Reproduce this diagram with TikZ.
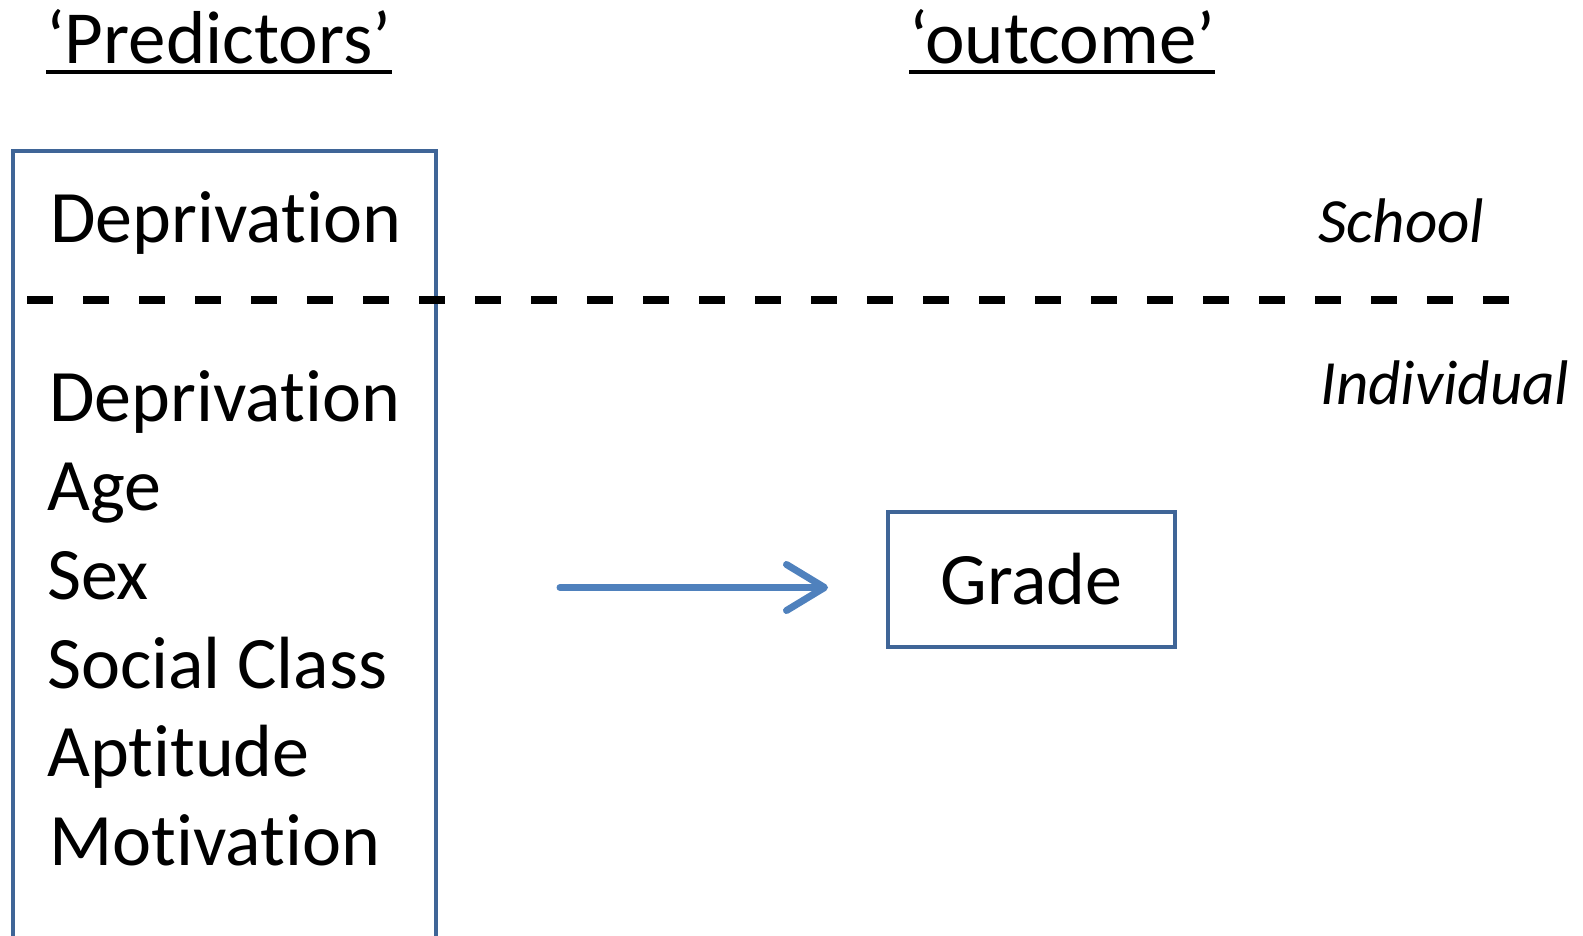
\documentclass[tikz,border=0pt]{standalone}
\usepackage{fontspec}
\setmainfont{Carlito}[Ligatures=NoCommon]
\usetikzlibrary{arrows.meta}
\definecolor{frameblue}{RGB}{63,101,151}
\definecolor{arrowblue}{RGB}{79,129,189}
\begin{document}
\begin{tikzpicture}[x=1pt,y=-1pt,
  txt/.style={inner sep=0pt,anchor=base west,font=\fontsize{74}{74}\selectfont},
  lvl/.style={inner sep=0pt,anchor=base west,font=\fontsize{63}{63}\selectfont\itshape},
  frame/.style={draw=frameblue,line width=4pt},
  uline/.style={line width=3.5pt}]
\useasboundingbox (0,0) rectangle (1583,935);

% column headings
\node[txt,font=\fontsize{75}{75}\selectfont] (hpred) at (46,63) {‘Predictors’};
\node[txt,font=\fontsize{75}{75}\selectfont] (hout) at (909,63) {‘outcome’};
\draw[uline] ([yshift=-9pt]hpred.base west) -- ([yshift=-9pt]hpred.base east);
\draw[uline] ([yshift=-9pt]hout.base west) -- ([yshift=-9pt]hout.base east);

% predictor box (runs off the bottom edge)
\node[frame,anchor=north west,minimum width=423pt,minimum height=820pt] (preds) at (11,149) {};

% school level
\node[txt] (sdep) at (50,242) {Deprivation};
\node[lvl] (school) at (1318,242) {School};

% level separator
\draw[line width=8pt,dash pattern=on 26pt off 30pt] (27,300) -- (1513,300);

% individual level
\node[lvl] (indiv) at (1320,404) {Individual};
\node[txt] (idep) at (49,421) {Deprivation};
\node[txt] (age) at (47,510) {Age};
\node[txt] (sex) at (47,599) {Sex};
\node[txt] (cls) at (47,688) {Social Class};
\node[txt] (apt) at (47,776) {Aptitude};
\node[txt] (mot) at (49,865) {Motivation};

% outcome
\node[frame,minimum width=287pt,minimum height=135pt,font=\fontsize{74}{74}\selectfont] (grade) at (1031.5,579.5) {Grade};

% effect arrow
\draw[arrowblue,line width=7pt,line cap=round,
      -{Straight Barb[length=38pt,width=46pt,line cap=round,line join=round]},
      shorten <=122pt,shorten >=58pt]
  ([yshift=-8pt]preds.east |- grade.west) -- ([yshift=-8pt]grade.west);
\end{tikzpicture}
\end{document}
